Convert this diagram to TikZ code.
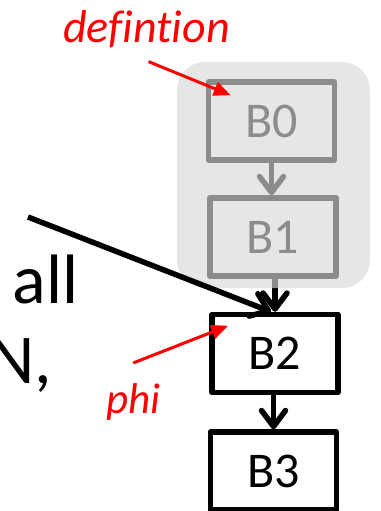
\documentclass[tikz,border=0pt]{standalone}
\usepackage{fontspec}
\setmainfont{Carlito}[Ligatures=NoCommon]
\usetikzlibrary{arrows.meta}
\begin{document}
\begin{tikzpicture}[x=1pt,y=-1pt,
  block/.style={draw, line width=5.5pt, line join=round, minimum width=126pt,
    minimum height=78pt, inner sep=0pt, font=\fontsize{50}{60}\selectfont},
  flow/.style={line width=5.5pt, -{Straight Barb[length=16pt,width=24pt,round]}},
  note/.style={red, inner sep=0pt, anchor=base west},
  pointer/.style={red, line width=3pt, -{Triangle[length=17pt,width=14pt]}},
  slide/.style={font=\fontsize{70}{84}\selectfont, inner sep=0pt, anchor=base west},
  shade/.style={fill={rgb,255:red,216;green,216;blue,216}, fill opacity=0.65,
    rounded corners=28pt}
]
\useasboundingbox (0,0) rectangle (380,511);
\clip (0,0) rectangle (380,511);

% slide text running off the left edge
\node[slide] (all) at (12.5,303) {all};
\node[slide] (ncomma) at (-11,383) {N,};

% basic blocks
\node[block] (B0) at (271.5,121) {B0};
\node[block] (B1) at (273,237) {B1};
\node[block] (B2) at (275,353.5) {B2};
\node[block] (B3) at (273.5,471) {B3};

% control-flow edges
\draw[flow] (B0.south) -- (B0.south |- B1.north);
\draw[flow] (B1.south -| B2.north) -- (B2.north);
\draw[flow] (B3.north |- B2.south) -- (B3.north);

% greyed-out region over B0 and B1
\fill[shade] (177,62) rectangle (370,288);

% incoming edge from another predecessor
\coordinate (pred) at (28,217);
\draw[flow] (pred) -- ([xshift=-4pt]B2.north);

% annotations
\node[note, font=\fontsize{46}{55}\selectfont\itshape] (def) at (63,43) {defintion};
\node[note, font=\fontsize{43}{52}\selectfont\itshape] (phi) at (106,413) {phi};
\draw[pointer] ([xshift=2pt,yshift=-13pt]def.south) -- ([shift={(25,16)}]B0.north west);
\draw[pointer] ([yshift=20pt]phi.north) -- ([shift={(19,14)}]B2.north west);
\end{tikzpicture}
\end{document}
